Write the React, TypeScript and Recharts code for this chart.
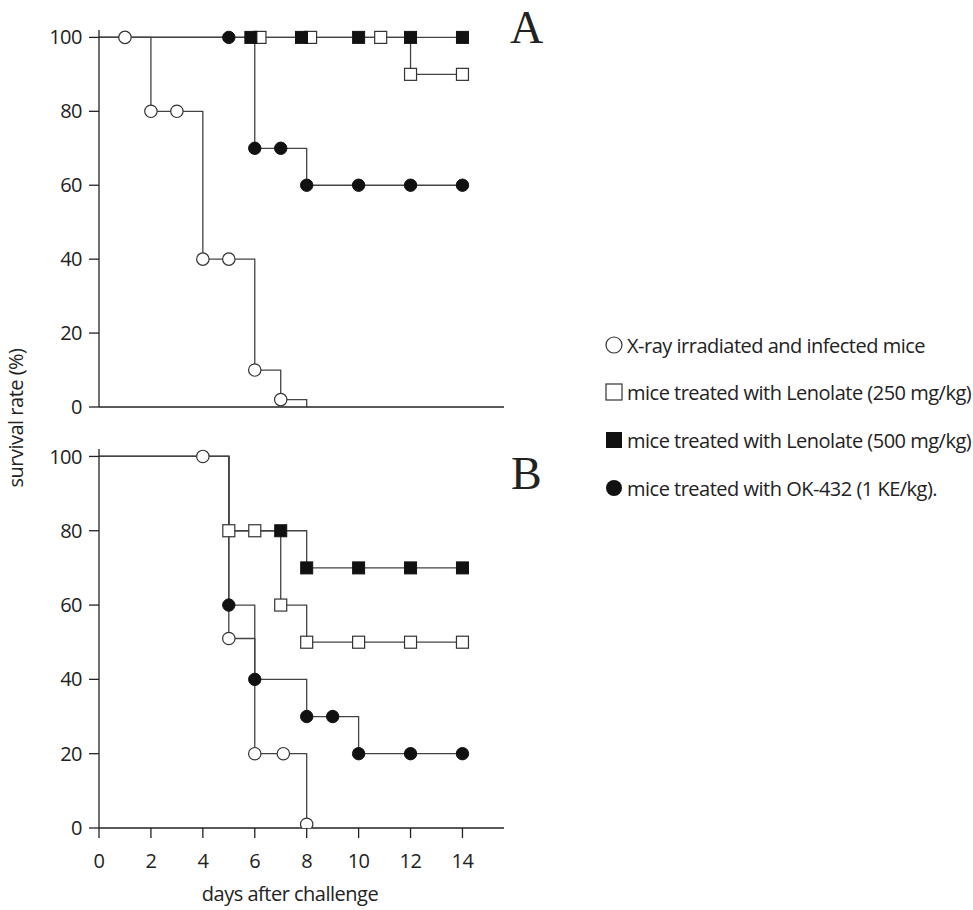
import React from 'react';
import { ComposedChart, Line, Scatter, XAxis, YAxis } from 'recharts';

const dayTicks = [0, 2, 4, 6, 8, 10, 12, 14];
const rateTicks = [0, 20, 40, 60, 80, 100];

const legendLabels = [
  'X-ray irradiated and infected mice',
  'mice treated with Lenolate (250 mg/kg)',
  'mice treated with Lenolate (500 mg/kg)',
  'mice treated with OK-432 (1 KE/kg).',
];

// panel A: step curves (day the level starts, level) and the plotted symbols
const aXrayStepDays = [0, 2, 4, 6, 7, 8];
const aXrayStepRates = [100, 80, 40, 10, 2, 0];
const aXrayDays = [1, 2, 3, 4, 5, 6, 7];
const aXrayRates = [100, 80, 80, 40, 40, 10, 2];

const aLen250StepDays = [0, 12, 14];
const aLen250StepRates = [100, 90, 90];
const aLen250Days = [6.2, 8.15, 10.85, 12, 14];
const aLen250Rates = [100, 100, 100, 90, 90];

const aLen500StepDays = [0, 14];
const aLen500StepRates = [100, 100];
const aLen500Days = [5.85, 7.8, 10, 12, 14];
const aLen500Rates = [100, 100, 100, 100, 100];

const aOkStepDays = [0, 6, 8, 14];
const aOkStepRates = [100, 70, 60, 60];
const aOkDays = [5, 6, 7, 8, 10, 12, 14];
const aOkRates = [100, 70, 70, 60, 60, 60, 60];

// panel B
const bXrayStepDays = [0, 5, 6, 8];
const bXrayStepRates = [100, 51, 20, 0];
const bXrayDays = [4, 5, 6, 7.1, 8];
const bXrayRates = [100, 51, 20, 20, 1];

const bLen250StepDays = [0, 5, 7, 8, 14];
const bLen250StepRates = [100, 80, 60, 50, 50];
const bLen250Days = [5, 6, 7, 8, 10, 12, 14];
const bLen250Rates = [80, 80, 60, 50, 50, 50, 50];

const bLen500StepDays = [0, 5, 8, 14];
const bLen500StepRates = [100, 80, 70, 70];
const bLen500Days = [7, 8, 10, 12, 14];
const bLen500Rates = [80, 70, 70, 70, 70];

const bOkStepDays = [0, 5, 6, 8, 10, 14];
const bOkStepRates = [100, 60, 40, 30, 20, 20];
const bOkDays = [5, 6, 8, 9, 10, 12, 14];
const bOkRates = [60, 40, 30, 30, 20, 20, 20];

const toPoints = (days: number[], rates: number[]) =>
  days.map((day, i) => ({ day, rate: rates[i] }));

const INK = '#222';
const LINE = '#444';
const sans = "'Open Sans', 'Noto Sans', sans-serif";
const serif = "'Liberation Serif', 'DejaVu Serif', serif";
const FS = 20;
const LS = -0.5;

const OpenCircle = (p: any) => (
  <circle cx={p.cx} cy={p.cy} r={6.2} fill="#fff" stroke="#333" strokeWidth={1.2} />
);
const FilledCircle = (p: any) => (
  <circle cx={p.cx} cy={p.cy} r={6.2} fill="#111" stroke="#111" strokeWidth={1} />
);
const OpenSquare = (p: any) => (
  <rect x={p.cx - 6} y={p.cy - 6} width={12} height={12} fill="#fff" stroke="#333" strokeWidth={1.2} />
);
const FilledSquare = (p: any) => (
  <rect x={p.cx - 6} y={p.cy - 6} width={12} height={12} fill="#111" stroke="#111" strokeWidth={1} />
);

const shapes = [OpenCircle, OpenSquare, FilledSquare, FilledCircle];

const panelA = [
  { step: toPoints(aXrayStepDays, aXrayStepRates), marks: toPoints(aXrayDays, aXrayRates) },
  { step: toPoints(aLen250StepDays, aLen250StepRates), marks: toPoints(aLen250Days, aLen250Rates) },
  { step: toPoints(aLen500StepDays, aLen500StepRates), marks: toPoints(aLen500Days, aLen500Rates) },
  { step: toPoints(aOkStepDays, aOkStepRates), marks: toPoints(aOkDays, aOkRates) },
];

const panelB = [
  { step: toPoints(bXrayStepDays, bXrayStepRates), marks: toPoints(bXrayDays, bXrayRates) },
  { step: toPoints(bLen250StepDays, bLen250StepRates), marks: toPoints(bLen250Days, bLen250Rates) },
  { step: toPoints(bLen500StepDays, bLen500StepRates), marks: toPoints(bLen500Days, bLen500Rates) },
  { step: toPoints(bOkStepDays, bOkStepRates), marks: toPoints(bOkDays, bOkRates) },
];

const tickFont = { fontFamily: sans, fontSize: FS, fill: INK, letterSpacing: LS };

function Panel({ series, top, height, marginTop, axisHeight, showDays }: any) {
  return (
    <div style={{ position: 'absolute', left: 0, top }}>
      <ComposedChart
        width={520}
        height={height}
        margin={{ top: marginTop, right: 16, bottom: 0, left: 0 }}
      >
        <XAxis
          dataKey="day"
          type="number"
          domain={[0, 15.6]}
          ticks={dayTicks}
          allowDataOverflow
          height={axisHeight}
          tickSize={10}
          tickMargin={16}
          tick={showDays ? tickFont : false}
          axisLine={{ stroke: INK, strokeWidth: 1.3 }}
          tickLine={{ stroke: INK, strokeWidth: 1.3 }}
        />
        <YAxis
          dataKey="rate"
          type="number"
          domain={[0, 102]}
          ticks={rateTicks}
          allowDataOverflow
          width={99}
          tickSize={10}
          tickMargin={7}
          tick={tickFont}
          axisLine={{ stroke: INK, strokeWidth: 1.3 }}
          tickLine={{ stroke: INK, strokeWidth: 1.3 }}
        />
        {series.map((s: any, i: number) => (
          <Line
            key={`line-${i}`}
            data={s.step}
            dataKey="rate"
            type="stepAfter"
            stroke={LINE}
            strokeWidth={1.3}
            dot={false}
            activeDot={false}
            isAnimationActive={false}
          />
        ))}
        {series.map((s: any, i: number) => (
          <Scatter
            key={`mark-${i}`}
            data={s.marks}
            dataKey="rate"
            shape={shapes[i]}
            isAnimationActive={false}
          />
        ))}
      </ComposedChart>
    </div>
  );
}

export default function App() {
  const legendY = [345, 392, 440, 488];
  return (
    <div style={{ position: 'absolute', left: 0, top: 0, width: 973, height: 910, background: '#fff' }}>
      <Panel series={panelA} top={0} height={427} marginTop={30} axisHeight={20} showDays={false} />
      <Panel series={panelB} top={440} height={470} marginTop={9} axisHeight={82} showDays />
      <svg
        width={973}
        height={910}
        style={{ position: 'absolute', left: 0, top: 0, pointerEvents: 'none' }}
      >
        <text x={510} y={43} fontFamily={serif} fontSize={46} fill={INK}>A</text>
        <text x={511} y={489} fontFamily={serif} fontSize={46} fill={INK}>B</text>
        <text
          x={290}
          y={901}
          textAnchor="middle"
          fontFamily={sans}
          fontSize={FS}
          letterSpacing={LS}
          fill={INK}
        >
          days after challenge
        </text>
        <text
          x={15}
          y={418}
          textAnchor="middle"
          dominantBaseline="central"
          transform="rotate(-90, 15, 418)"
          fontFamily={sans}
          fontSize={FS}
          letterSpacing={LS}
          fill={INK}
        >
          survival rate (%)
        </text>
        {legendLabels.map((label, i) => {
          const y = legendY[i];
          const Shape = [
            <circle key="m" cx={614} cy={y} r={8} fill="#fff" stroke="#333" strokeWidth={1.2} />,
            <rect key="m" x={606} y={y - 8} width={16} height={16} fill="#fff" stroke="#333" strokeWidth={1.2} />,
            <rect key="m" x={606} y={y - 8} width={16} height={16} fill="#111" />,
            <circle key="m" cx={614} cy={y} r={8} fill="#111" />,
          ][i];
          return (
            <g key={label}>
              {Shape}
              <text
                x={627}
                y={y}
                dominantBaseline="central"
                fontFamily={sans}
                fontSize={FS}
                letterSpacing={LS}
                fill={INK}
              >
                {label}
              </text>
            </g>
          );
        })}
      </svg>
    </div>
  );
}
